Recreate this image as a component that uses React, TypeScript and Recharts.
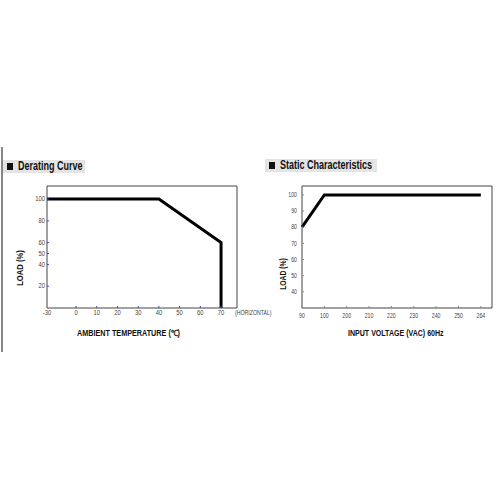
import React from 'react';
import { LineChart, Line, XAxis, YAxis } from 'recharts';

// derating curve
const tempPoints = [-30, 40, 70, 70];
const tempLoads = [100, 100, 60, 0];
const tempTicks = [-30, 0, 10, 20, 30, 40, 50, 60, 70];
const deratingLoadTicks = [20, 40, 50, 60, 80, 100];
const deratingRightMarks = [20, 40, 60, 80, 100];

// static characteristics
const voltageTicks = ['90', '100', '200', '210', '220', '230', '240', '250', '264'];
const voltagePoints = ['90', '100', '264'];
const voltageLoads = [80, 100, 100];
const staticLoadTicks = [40, 50, 60, 70, 80, 90, 100];

const FONT = "'Liberation Sans', Arial, sans-serif";
const AXIS = '#444';
const BLUE = '#3344dd';

// the temperature axis is broken between -30 and 0
const tempPos = (t: number) => (t < 0 ? (t * 14) / 30 : t);

const deratingData = tempPoints.map((t, i) => ({ x: tempPos(t), load: tempLoads[i] }));
const staticData = voltagePoints.map((v, i) => ({ x: voltageTicks.indexOf(v), load: voltageLoads[i] }));

// narrow tick label
const Label = ({ x, y, anchor, squeeze, children }: any) => (
  <g transform={`translate(${x},${y}) scale(${squeeze},1)`}>
    <text x={0} y={0} textAnchor={anchor} fontSize={6.5} fill="#444" fontFamily={FONT}>{children}</text>
  </g>
);

const TempTick = (props: any) => {
  const { x, y, payload } = props;
  const label = tempTicks[payload.index];
  return (
    <g>
      {label !== -30 && <line x1={x} y1={y} x2={x} y2={y - 2} stroke={BLUE} />}
      <Label x={x} y={y + 7} anchor="middle" squeeze={0.9}>{label}</Label>
    </g>
  );
};

const LeftLoadTick = (props: any) => {
  const { x, y, payload } = props;
  return (
    <g>
      <line x1={x} y1={y} x2={x + 2} y2={y} stroke={BLUE} />
      <Label x={x - 2} y={y + 2.2} anchor="end" squeeze={0.9}>{payload.value}</Label>
    </g>
  );
};

const RightMark = (color: string) => (props: any) => {
  const { x, y } = props;
  return <line x1={x - 2} y1={y} x2={x} y2={y} stroke={color} />;
};

const VoltTick = (props: any) => {
  const { x, y, payload } = props;
  return (
    <g>
      <line x1={x} y1={y} x2={x} y2={y - 2} stroke="#888" />
      <Label x={x} y={y + 10} anchor="middle" squeeze={0.8}>{voltageTicks[payload.index]}</Label>
    </g>
  );
};

const StaticLoadTick = (props: any) => {
  const { x, y, payload } = props;
  return (
    <g>
      <line x1={x} y1={y} x2={x + 2} y2={y} stroke="#888" />
      <Label x={x - 5} y={y + 2.2} anchor="end" squeeze={0.8}>{payload.value}</Label>
    </g>
  );
};

const titleBox = (left: number, top: number, width: number, text: string) => (
  <div
    style={{
      position: 'absolute', left, top, width, height: 13, background: '#e4e4e4',
      fontFamily: FONT, fontWeight: 'bold', fontSize: 12, lineHeight: '13px', color: '#111',
      whiteSpace: 'nowrap',
    }}
  >
    <span style={{ position: 'absolute', left: 4, top: 3, width: 6, height: 7, background: '#111' }} />
    <span style={{ position: 'absolute', left: 15, top: 0, transform: 'scaleX(0.75)', transformOrigin: 'left center' }}>{text}</span>
  </div>
);

const axisTitle = {
  position: 'absolute' as const, fontFamily: FONT, fontWeight: 'bold' as const, fontSize: 8.5,
  lineHeight: '10px', color: '#111', whiteSpace: 'nowrap' as const,
};

export default function App() {
  return (
    <div style={{ position: 'absolute', left: 0, top: 0, width: 500, height: 500, background: '#fff', overflow: 'hidden' }}>
      <div style={{ position: 'absolute', left: 1, top: 147, width: 2, height: 205, background: '#888' }} />

      {titleBox(3, 160, 82, 'Derating Curve')}
      {titleBox(265, 159, 112, 'Static Characteristics')}

      <div style={{ position: 'absolute', left: 0, top: 150 }}>
        <LineChart width={260} height={200} data={deratingData} margin={{ top: 35, right: 22, bottom: 41, left: 46 }}>
          <XAxis dataKey="x" type="number" domain={[-14, 77.7]} ticks={tempTicks.map(tempPos)} interval={0}
            height={1} tickSize={0} tickMargin={0} tick={<TempTick />} stroke={AXIS} />
          <XAxis xAxisId="top" orientation="top" dataKey="x" type="number" domain={[-14, 77.7]} height={1} tick={false} stroke={AXIS} />
          <YAxis type="number" domain={[0, 112]} ticks={deratingLoadTicks} interval={0} width={1} tickSize={0} tickMargin={0}
            tick={<LeftLoadTick />} stroke={AXIS} />
          <YAxis yAxisId="right" orientation="right" type="number" domain={[0, 112]} ticks={deratingRightMarks} interval={0}
            width={1} tickSize={0} tickMargin={0} tick={RightMark(BLUE)} stroke={AXIS} />
          <Line dataKey="load" type="linear" stroke="#000" strokeWidth={3} dot={false} isAnimationActive={false} />
        </LineChart>
      </div>
      <div style={{ ...axisTitle, fontSize: 6.5, fontWeight: 'normal', color: '#444', left: 235, top: 308, transform: 'scaleX(0.8)', transformOrigin: 'left center' }}>(HORIZONTAL)</div>
      <div style={{ ...axisTitle, left: 77, top: 328, transform: 'scaleX(0.85)', transformOrigin: 'left center' }}>AMBIENT TEMPERATURE (℃)</div>
      <div style={{ ...axisTitle, left: 20, top: 268, transform: 'translate(-50%, -50%) rotate(-90deg) scaleX(0.9)' }}>LOAD (%)</div>

      <div style={{ position: 'absolute', left: 250, top: 150 }}>
        <LineChart width={250} height={200} data={staticData} margin={{ top: 35, right: 7, bottom: 41, left: 51 }}>
          <XAxis dataKey="x" type="number" domain={[0, 8.5]} ticks={voltageTicks.map((_, i) => i)} interval={0}
            height={1} tickSize={0} tickMargin={0} tick={<VoltTick />} stroke={AXIS} />
          <XAxis xAxisId="top" orientation="top" dataKey="x" type="number" domain={[0, 8.5]} height={1} tick={false} stroke={AXIS} />
          <YAxis type="number" domain={[30, 105.5]} ticks={staticLoadTicks} interval={0} width={1} tickSize={0} tickMargin={0}
            tick={<StaticLoadTick />} stroke={AXIS} />
          <YAxis yAxisId="right" orientation="right" type="number" domain={[30, 105.5]} ticks={staticLoadTicks} interval={0}
            width={1} tickSize={0} tickMargin={0} tick={RightMark('#888')} stroke={AXIS} />
          <Line dataKey="load" type="linear" stroke="#000" strokeWidth={3} dot={false} isAnimationActive={false} />
        </LineChart>
      </div>
      <div style={{ ...axisTitle, left: 348, top: 328, transform: 'scaleX(0.83)', transformOrigin: 'left center' }}>INPUT VOLTAGE (VAC) 60Hz</div>
      <div style={{ ...axisTitle, left: 282.7, top: 274, transform: 'translate(-50%, -50%) rotate(-90deg) scaleX(0.8)' }}>LOAD (%)</div>
    </div>
  );
}
